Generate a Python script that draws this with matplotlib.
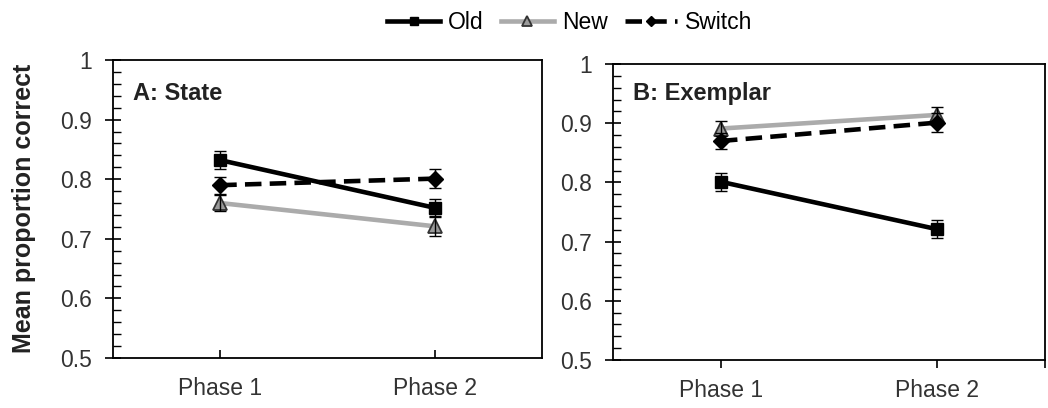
"""Mean proportion correct across phases for State and Exemplar conditions."""

import matplotlib
from matplotlib import pyplot as plt
from matplotlib.ticker import MultipleLocator

matplotlib.use("Agg")
plt.rcParams["font.family"] = ["Liberation Sans", "DejaVu Sans"]

phases = ["Phase 1", "Phase 2"]
panel_titles = ["A: State", "B: Exemplar"]
y_ticks = [0.5, 0.6, 0.7, 0.8, 0.9, 1.0]
y_tick_labels = ["0.5", "0.6", "0.7", "0.8", "0.9", "1"]

state_old = [0.832, 0.752]
state_new = [0.760, 0.721]
state_switch = [0.790, 0.801]
state_old_err = [0.015, 0.014]
state_new_err = [0.014, 0.016]
state_switch_err = [0.014, 0.016]

exemplar_old = [0.801, 0.721]
exemplar_new = [0.891, 0.914]
exemplar_switch = [0.870, 0.901]
exemplar_old_err = [0.015, 0.015]
exemplar_new_err = [0.013, 0.014]
exemplar_switch_err = [0.013, 0.016]

styles = {
    "Old": dict(color="black", linestyle="-", marker="s", markersize=8.5,
                markerfacecolor="black", linewidth=3.3),
    "New": dict(color="#ababab", linestyle="-", marker="^", markersize=10,
                markerfacecolor="#9a9a9a", markeredgecolor="#333333",
                markeredgewidth=1.3, linewidth=3.3),
    "Switch": dict(color="black", linestyle=(0, (3.6, 1.8)), marker="D",
                   markersize=8, markerfacecolor="black", linewidth=3.3),
}

panels = [
    {"Old": (state_old, state_old_err), "New": (state_new, state_new_err),
     "Switch": (state_switch, state_switch_err)},
    {"Old": (exemplar_old, exemplar_old_err),
     "New": (exemplar_new, exemplar_new_err),
     "Switch": (exemplar_switch, exemplar_switch_err)},
]

fig = plt.figure(figsize=(10.48, 4.08), dpi=100)
ax_a = fig.add_axes([0.1078, 0.1225, 0.4094, 0.7304])
ax_b = fig.add_axes([0.5849, 0.1176, 0.4122, 0.7255])

x = list(range(len(phases)))
handles = []
for ax, data, title in zip([ax_a, ax_b], panels, panel_titles):
    for name in ["Old", "New", "Switch"]:
        y, err = data[name]
        ax.errorbar(x, y, yerr=err, fmt="none", ecolor="black",
                    elinewidth=1, capsize=4, capthick=1, zorder=4)
        (line,) = ax.plot(x, y, label=name, zorder=3, **styles[name])
        if ax is ax_a:
            handles.append(line)
    ax.set_xlim(-0.5, 1.5)
    ax.set_ylim(0.5, 1.0)
    ax.set_xticks(x)
    ax.set_xticklabels(phases)
    ax.set_yticks(y_ticks)
    ax.set_yticklabels(y_tick_labels)
    ax.yaxis.set_minor_locator(MultipleLocator(0.02))
    ax.tick_params(axis="y", which="major", direction="inout", length=12,
                   width=1.2, labelsize=16.5, pad=9, labelcolor="#333333")
    ax.tick_params(axis="y", which="minor", direction="in", length=6,
                   width=1)
    ax.tick_params(axis="x", which="major", length=6, width=1.2,
                   labelsize=16.5, labelcolor="#333333")
    for spine in ax.spines.values():
        spine.set_linewidth(1.3)

ax_a.tick_params(axis="x", direction="in", pad=14)
ax_b.tick_params(axis="x", direction="out", pad=8)
ax_b.set_xticks([1.5], minor=True)
ax_b.tick_params(axis="x", which="minor", direction="out", length=6,
                 width=1.2)

ax_a.text(0.047, 0.926, panel_titles[0], transform=ax_a.transAxes,
          fontsize=17, fontweight="bold", va="top", ha="left", color="#222222")
ax_b.text(0.046, 0.94, panel_titles[1], transform=ax_b.transAxes,
          fontsize=17, fontweight="bold", va="top", ha="left", color="#222222")

fig.text(0.023, 0.49, "Mean proportion correct", rotation=90, fontsize=18,
         fontweight="bold", ha="center", va="center", color="#222222")

fig.legend(handles=handles, loc="center", bbox_to_anchor=(0.544, 0.944),
           ncol=3, frameon=False, fontsize=16.5, handlelength=2.3,
           handletextpad=0.35, columnspacing=0.75, markerscale=0.7,
           borderpad=0)

fig.savefig("out.png", dpi=100)
